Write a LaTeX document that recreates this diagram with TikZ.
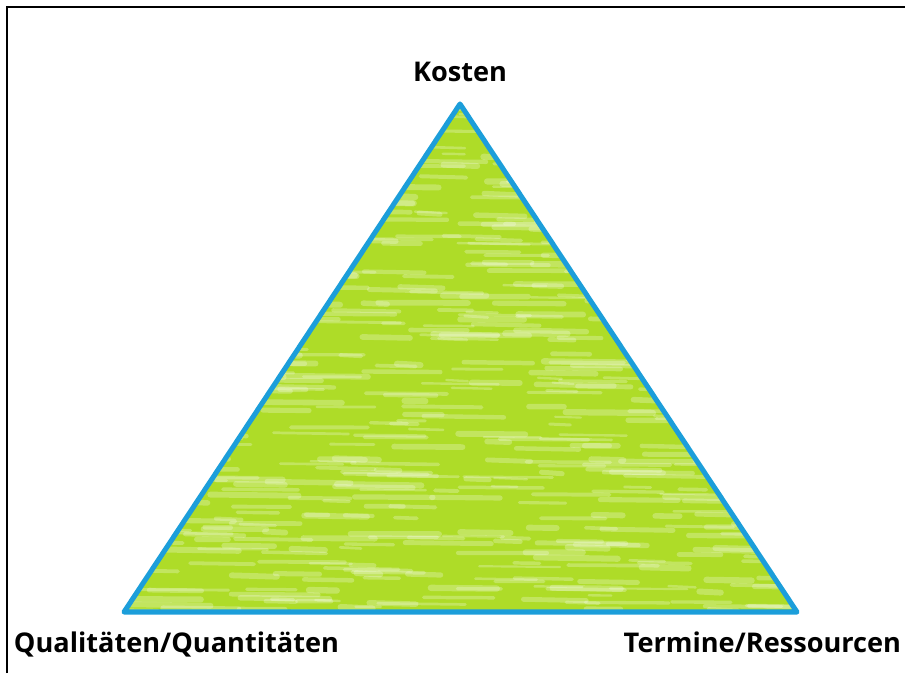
\documentclass[tikz,border=0pt]{standalone}
\usepackage{fontspec}
\setmainfont{Open Sans}

\definecolor{lime}{RGB}{174,220,40}
\definecolor{edgeblue}{RGB}{28,158,218}

\tikzset{corner/.style = {font = \bfseries\fontsize{19.3}{22}\selectfont}}

\begin{document}
\begin{tikzpicture}[x = 0.025cm, y = -0.025cm]
    \useasboundingbox (0,0) rectangle (905,673);
    \draw[line width = 1.8pt] (7,673) -- (7,7) -- (905,7);

    \coordinate (top) at (460,104);
    \coordinate (left) at (124,612);
    \coordinate (right) at (797,612);

    % chalky fill with light streaks
    \fill[lime] (top) -- (left) -- (right) -- cycle;
    \begin{scope}
        \clip (top) -- (left) -- (right) -- cycle;
        \pgfmathsetseed{42}
        \foreach \i in {1,...,700} {
            \pgfmathsetmacro{\sx}{100 + 710*rnd}
            \pgfmathsetmacro{\sy}{100 + 515*rnd}
            \pgfmathsetmacro{\sl}{20 + 70*rnd}
            \pgfmathsetmacro{\sw}{1.5 + 3*rnd}
            \draw[white, opacity = 0.26, line width = \sw pt, line cap = round]
                (\sx,\sy) -- +(\sl,1.5*rnd);
        }
    \end{scope}
    \draw[edgeblue, line width = 3.6pt, line join = round] (top) -- (left) -- (right) -- cycle;

    \node[corner] (kosten) at (460,72) {Kosten};
    \node[corner, anchor = west] (quali) at (9,644) {Qualitäten/Quantitäten};
    \node[corner, anchor = east] (termine) at (906,642) {Termine/Ressourcen};
\end{tikzpicture}
\end{document}
